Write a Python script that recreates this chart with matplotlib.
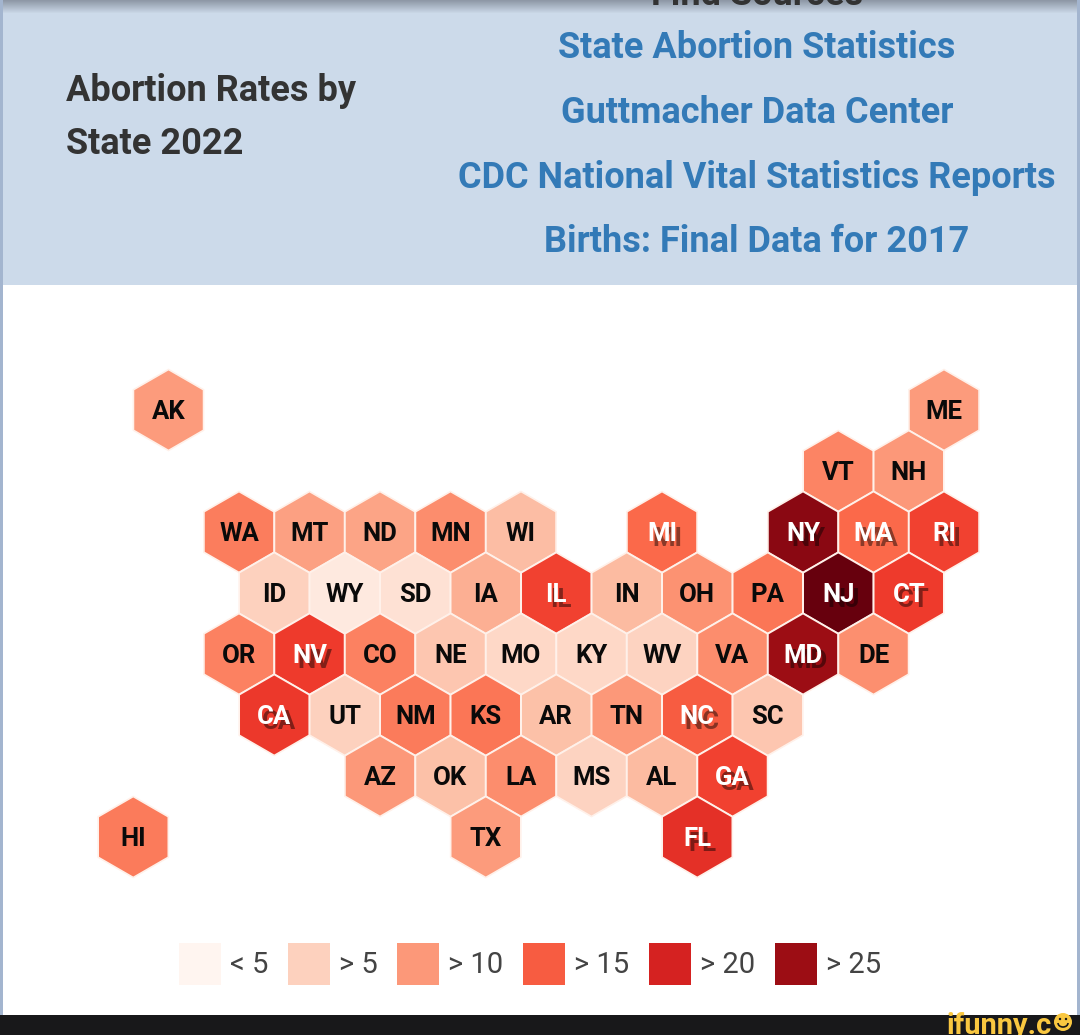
import numpy as np
import matplotlib
matplotlib.use('Agg')
import matplotlib.pyplot as plt
from matplotlib.patches import RegularPolygon, Rectangle, Circle, Arc
from matplotlib.colors import Normalize, LinearSegmentedColormap

plt.rcParams['font.family'] = ['Roboto', 'DejaVu Sans']

# tile grid: column is in half hexagons, row counted from the top
states = ['AK', 'ME',
          'VT', 'NH',
          'WA', 'MT', 'ND', 'MN', 'WI', 'MI', 'NY', 'MA', 'RI',
          'ID', 'WY', 'SD', 'IA', 'IL', 'IN', 'OH', 'PA', 'NJ', 'CT',
          'OR', 'NV', 'CO', 'NE', 'MO', 'KY', 'WV', 'VA', 'MD', 'DE',
          'CA', 'UT', 'NM', 'KS', 'AR', 'TN', 'NC', 'SC',
          'AZ', 'OK', 'LA', 'MS', 'AL', 'GA',
          'HI', 'TX', 'FL']
cols = [0, 22,
        19, 21,
        2, 4, 6, 8, 10, 14, 18, 20, 22,
        3, 5, 7, 9, 11, 13, 15, 17, 19, 21,
        2, 4, 6, 8, 10, 12, 14, 16, 18, 20,
        3, 5, 7, 9, 11, 13, 15, 17,
        6, 8, 10, 12, 14, 16,
        -1, 9, 15]
rows = [0, 0,
        1, 1,
        2, 2, 2, 2, 2, 2, 2, 2, 2,
        3, 3, 3, 3, 3, 3, 3, 3, 3, 3,
        4, 4, 4, 4, 4, 4, 4, 4, 4, 4,
        5, 5, 5, 5, 5, 5, 5, 5,
        6, 6, 6, 6, 6, 6,
        7, 7, 7]
# rates estimated from the tile colours
rates = [9.8, 9.8,
         11.8, 10,
         12.3, 9.3, 9, 11, 6.8, 14, 26, 14, 17,
         5, 2, 3.3, 8, 17, 7, 10.5, 13, 28, 17.5,
         12, 17.5, 12, 6, 4.3, 4.3, 4.8, 11, 25, 10.8,
         17.8, 5, 12.5, 13, 6.5, 10, 15, 6,
         10, 6.5, 11, 4.8, 7, 17,
         12.5, 9.8, 18.5]

legend_values = [0, 5, 10, 15, 20, 25]
legend_labels = ['< 5', '> 5', '> 10', '> 15', '> 20', '> 25']
legend_x = [179, 288, 397, 523, 649, 775]

title_lines = ['Abortion Rates by', 'State 2022']
source_lines = ['State Abortion Statistics', 'Guttmacher Data Center',
                'CDC National Vital Statistics Reports', 'Births: Final Data for 2017']
source_y = [48, 113, 178, 242]

cmap = plt.get_cmap('Reds')
norm = Normalize(0, 28)

fig = plt.figure(figsize=(10.8, 10.35), dpi=100)
ax = fig.add_axes([0, 0, 1, 1])

# header band
ax.add_patch(Rectangle((0, 0), 1080, 285, color='#ccdaea', lw=0, zorder=0))
shade = np.linspace(0, 1, 14).reshape(-1, 1)
ax.imshow(shade, extent=(0, 1080, 14, 0), aspect='auto', zorder=1,
          cmap=LinearSegmentedColormap.from_list('top', ['#8e98a6', '#ccdaea']))
ax.set_xlim(0, 1080)
ax.set_ylim(1035, 0)
ax.axis('off')
ax.add_patch(Rectangle((0, 0), 3, 1015, color='#a3b5cf', lw=0, zorder=2))
ax.add_patch(Rectangle((1077, 0), 3, 1015, color='#a3b5cf', lw=0, zorder=2))

ax.text(757, -5, 'Find Sources', fontsize=26, fontweight='bold', color='#333333',
        ha='center', va='center', zorder=3)
ax.text(66, 91, title_lines[0], fontsize=26, fontweight='bold', color='#333333', va='center')
ax.text(66, 144, title_lines[1], fontsize=26, fontweight='bold', color='#333333', va='center')
for line, y in zip(source_lines, source_y):
    ax.text(757, y, line, fontsize=26, fontweight='bold', color='#337ab7', ha='center', va='center')

# hexagons
for state, c, r, v in zip(states, cols, rows, rates):
    x = 168.5 + 35.25 * c
    y = 410 + 61 * r
    ax.add_patch(RegularPolygon((x, y), 6, radius=40.5, orientation=0,
                                facecolor=cmap(norm(v)), edgecolor='#fff1ea',
                                linewidth=1.2, zorder=3))
    if v >= 14:
        ax.text(x + 5, y + 7, state, fontsize=18.5, fontweight='bold', color='black', alpha=0.45,
                ha='center', va='center', zorder=4)
        ax.text(x, y + 2, state, fontsize=18.5, fontweight='bold', color='white',
                ha='center', va='center', zorder=5)
    else:
        ax.text(x, y + 2, state, fontsize=18.5, fontweight='bold', color='#0a0a0a',
                ha='center', va='center', zorder=4)

# legend
for v, label, x in zip(legend_values, legend_labels, legend_x):
    ax.add_patch(Rectangle((x, 943), 42, 42, facecolor=cmap(norm(v)), edgecolor='none', zorder=3))
    ax.text(x + 51, 965, label, fontsize=21, color='#444444', va='center', zorder=3)

# watermark strip
ax.add_patch(Rectangle((0, 1015), 1080, 20, color='#18181a', lw=0, zorder=6))
ax.text(946, 1034, 'ifunny.c', fontsize=21, fontweight='bold', color='#f9c740', va='baseline', zorder=7)
ax.add_patch(Circle((1063, 1022), 9, color='#f9c740', lw=0, zorder=8))
ax.add_patch(Circle((1060, 1019), 1.2, color='#18181a', lw=0, zorder=9))
ax.add_patch(Circle((1066, 1019), 1.2, color='#18181a', lw=0, zorder=9))
ax.add_patch(Arc((1063, 1023), 10, 8, theta1=0, theta2=180, color='#18181a', lw=1.2, zorder=9))

fig.savefig('out.png', dpi=100)
